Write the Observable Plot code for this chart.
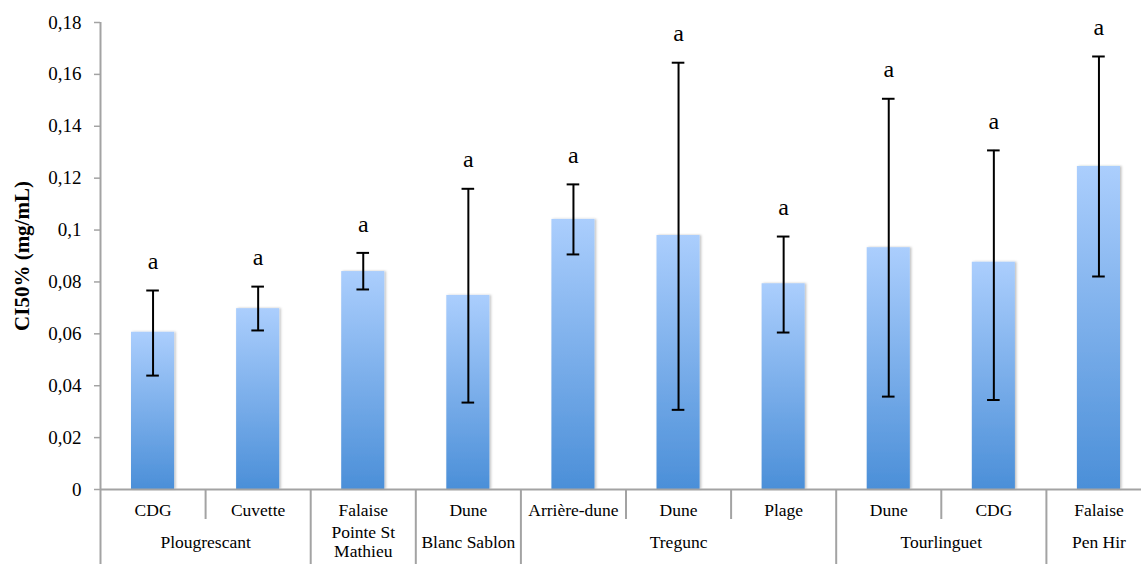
<!DOCTYPE html>
<html><head><meta charset="utf-8">
<script src="https://cdn.jsdelivr.net/npm/d3@7"></script>
<script src="https://cdn.jsdelivr.net/npm/@observablehq/plot@0.6"></script>
<style>body{margin:0;background:#fff;} svg{overflow:visible;}</style>
</head><body><div id="chart"></div>
<script>
// ---- data ----
const habitats = ["CDG","Cuvette","Falaise","Dune","Arrière-dune","Dune","Plage","Dune","CDG","Falaise"];
const ci50     = [0.0606,0.0697,0.0840,0.0748,0.1041,0.0979,0.0793,0.0932,0.0876,0.1245];
const errHigh  = [0.0767,0.0782,0.0912,0.1159,0.1176,0.1645,0.0975,0.1506,0.1307,0.1669];
const errLow   = [0.0439,0.0613,0.0771,0.0335,0.0906,0.0307,0.0605,0.0358,0.0345,0.0821];
const letters  = ["a","a","a","a","a","a","a","a","a","a"];
const groupNames = ["Plougrescant","Pointe St\nMathieu","Blanc Sablon","Tregunc","Tourlinguet","Pen Hir"];
const groupSizes = [2,1,1,3,2,1];
const yTicks = [0,0.02,0.04,0.06,0.08,0.1,0.12,0.14,0.16,0.18];
const yTickLabels = ["0","0,02","0,04","0,06","0,08","0,1","0,12","0,14","0,16","0,18"];
const yLabel = "CI50% (mg/mL)";

// ---- derived tables ----
const data = habitats.map((h, i) => ({i, habitat: h, value: ci50[i], hi: errHigh[i], lo: errLow[i], letter: letters[i]}));
let acc = 0;
const groups = groupNames.map((name, k) => { const start = acc; acc += groupSizes[k]; return {name, start, end: acc}; });
const groupBounds = groups.map(g => g.end);
const subBounds = [];
groups.forEach(g => { for (let b = g.start + 1; b < g.end; b++) subBounds.push(b); });

const barHalf = 0.205, capHalf = 0.06;
const gray = "#a3a3a3";
const font = "Liberation Serif";

const defs = () => {
  const d = d3.create("svg:defs");
  const g = d.append("linearGradient").attr("id", "barGrad").attr("x1", 0).attr("y1", 0).attr("x2", 0).attr("y2", 1);
  g.append("stop").attr("offset", "0%").attr("stop-color", "#abcefd");
  g.append("stop").attr("offset", "100%").attr("stop-color", "#4b8fd8");
  const f = d.append("filter").attr("id", "shadow").attr("x", "-20%").attr("y", "-5%").attr("width", "140%").attr("height", "110%");
  f.append("feDropShadow").attr("dx", 1.5).attr("dy", 0).attr("stdDeviation", 1.2).attr("flood-color", "#000").attr("flood-opacity", 0.25);
  return d.node();
};

const chart = Plot.plot({
  width: 1141, height: 564,
  marginLeft: 100, marginTop: 22, marginBottom: 75, marginRight: 0,
  style: {fontFamily: font, fontSize: "17px", color: "black", background: "white"},
  x: {domain: [0, 10], range: [100, 1151], axis: null},
  y: {domain: [0, 0.18]},
  marks: [
    defs,
    Plot.rectY(data, {x1: d => d.i + 0.5 - barHalf, x2: d => d.i + 0.5 + barHalf, y1: 0, y2: "value", fill: "url(#barGrad)"}),
    Plot.ruleY([0], {stroke: gray, strokeWidth: 2}),
    Plot.ruleX([0], {y1: 0.18, y2: 0, insetBottom: -75, stroke: gray, strokeWidth: 2}),
    Plot.ruleX(groupBounds, {x: d => d, y1: 0, y2: 0, insetBottom: -75, stroke: gray, strokeWidth: 2}),
    Plot.ruleX(subBounds, {x: d => d, y1: 0, y2: 0, insetBottom: -30, stroke: gray, strokeWidth: 2}),
    Plot.axisY(yTicks, {tickSize: 6, tickPadding: 13, stroke: gray, strokeWidth: 1.5, fontSize: 19, fill: "black",
      tickFormat: d => yTickLabels[yTicks.indexOf(d)], label: null}),
    Plot.ruleX(data, {x: d => d.i + 0.5, y1: "lo", y2: "hi", stroke: "black", strokeWidth: 2}),
    Plot.ruleY(data, {y: "hi", x1: d => d.i + 0.5 - capHalf, x2: d => d.i + 0.5 + capHalf, stroke: "black", strokeWidth: 2}),
    Plot.ruleY(data, {y: "lo", x1: d => d.i + 0.5 - capHalf, x2: d => d.i + 0.5 + capHalf, stroke: "black", strokeWidth: 2}),
    Plot.text(data, {x: d => d.i + 0.5, y: "hi", dy: -29, text: "letter", fontSize: 24, fill: "black"}),
    Plot.text(data, {x: d => d.i + 0.5, y: 0, dy: 21, text: "habitat", fontSize: 17.5, fill: "black"}),
    Plot.text(groups, {x: d => (d.start + d.end) / 2, y: 0, dy: 52, text: "name", lineAnchor: "middle", lineHeight: 1.1, fontSize: 17.5, fill: "black"}),
    Plot.text([yLabel], {frameAnchor: "left", dx: -78, rotate: -90, textAnchor: "middle", fontWeight: "bold", fontSize: 21, fill: "black"})
  ]
});
d3.select(chart).selectAll("rect").filter(function(){ return this.getAttribute("fill") === "url(#barGrad)" || (this.parentNode && this.parentNode.getAttribute("fill") === "url(#barGrad)"); }).attr("filter", "url(#shadow)");
document.getElementById("chart").appendChild(chart);
</script>
</body></html>
